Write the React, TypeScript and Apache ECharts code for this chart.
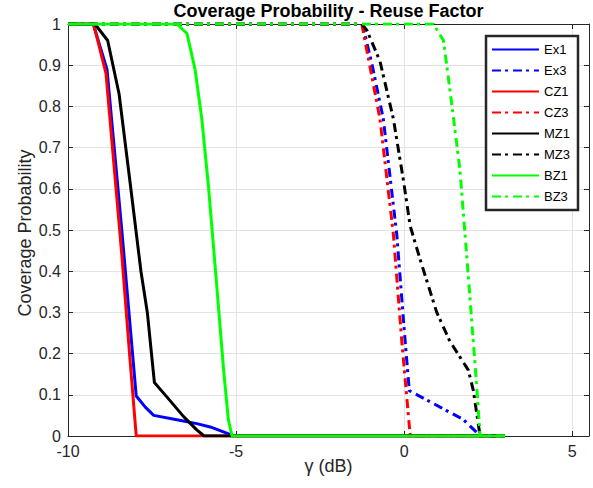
import React, { useEffect, useRef } from "react";
import * as echarts from "echarts";

// gamma (dB) / coverage probability pairs
const EX1: [number, number][] = [
  [-10, 1], [-9.25, 1], [-8.84, 0.89], [-8.4, 0.5], [-7.97, 0.097], [-7.7, 0.07],
  [-7.45, 0.05], [-6.8, 0.04], [-6.17, 0.03], [-5.77, 0.022], [-5.18, 0.004], [-5.1, 0], [3, 0],
];
const EX3: [number, number][] = [
  [-10, 1], [-1.24, 1], [-0.95, 0.9], [-0.62, 0.77], [-0.22, 0.49], [0.03, 0.23],
  [0.155, 0.11], [1.07, 0.07], [1.76, 0.04], [2.27, 0], [3, 0],
];
const CZ1: [number, number][] = [
  [-10, 1], [-9.24, 1], [-8.87, 0.88], [-8.4, 0.44], [-8.15, 0.18], [-7.97, 0], [3, 0],
];
const CZ3: [number, number][] = [
  [-10, 1], [-1.26, 1], [-0.72, 0.77], [-0.32, 0.49], [-0.07, 0.23], [0.17, 0.01], [0.19, 0], [3, 0],
];
const MZ1: [number, number][] = [
  [-10, 1], [-9.2, 1], [-8.82, 0.96], [-8.48, 0.83], [-8.13, 0.6], [-7.83, 0.4],
  [-7.64, 0.3], [-7.43, 0.13], [-7.06, 0.095], [-6.56, 0.047], [-6.17, 0.015], [-5.95, 0], [3, 0],
];
const MZ3: [number, number][] = [
  [-10, 1], [-1.26, 1], [-1.11, 0.985], [-0.72, 0.91], [-0.32, 0.77], [-0.02, 0.62],
  [0.18, 0.51], [0.47, 0.43], [0.97, 0.3], [1.36, 0.23], [1.91, 0.16], [2.06, 0.11], [2.26, 0], [3, 0],
];
const BZ1: [number, number][] = [
  [-10, 1], [-6.76, 1], [-6.46, 0.977], [-6.22, 0.89], [-6.02, 0.77], [-5.82, 0.605],
  [-5.57, 0.36], [-5.37, 0.16], [-5.23, 0.04], [-5.12, 0], [3, 0],
];
const BZ3: [number, number][] = [
  [-10, 1], [0.87, 1], [1.17, 0.96], [1.41, 0.81], [1.66, 0.646], [1.86, 0.44],
  [2.01, 0.28], [2.16, 0.12], [2.26, 0], [3, 0],
];

const SERIES_NAMES = ["Ex1", "Ex3", "CZ1", "CZ3", "MZ1", "MZ3", "BZ1", "BZ3"];
const SERIES_DATA = [EX1, EX3, CZ1, CZ3, MZ1, MZ3, BZ1, BZ3];
const SERIES_COLORS = ["#0000ff", "#0000ff", "#ff0000", "#ff0000", "#000000", "#000000", "#00ff00", "#00ff00"];
const SERIES_DASHED = [false, true, false, true, false, true, false, true];

const TITLE = "Coverage Probability - Reuse Factor";
const X_NAME = "\u03b3 (dB)";
const Y_NAME = "Coverage Probability";

const FONT = "'Liberation Sans', Arial, Helvetica, sans-serif";
const AXIS_COLOR = "#262626";

export default function App() {
  const ref = useRef<HTMLDivElement>(null);
  useEffect(() => {
    if (!ref.current) return;
    const chart = echarts.init(ref.current, null, { renderer: "svg" });
    const gridLeft = 68;
    const gridRight = 4;
    const gridTop = 24;
    const gridBottom = 52;
    const plotCx = (gridLeft + (593 - gridRight)) / 2;
    const axisCommon = {
      type: "value" as const,
      axisLine: { show: true, onZero: false, lineStyle: { color: AXIS_COLOR, width: 1 } },
      axisTick: { show: true, inside: true, length: 5, lineStyle: { color: AXIS_COLOR } },
    };
    chart.setOption({
      animation: false,
      backgroundColor: "#ffffff",
      textStyle: { fontFamily: FONT },
      grid: { left: gridLeft, right: gridRight, top: gridTop, bottom: gridBottom, show: false },
      xAxis: [
        {
          ...axisCommon,
          min: -10, max: 5.5, interval: 5, position: "bottom",
          axisLabel: { show: true, showMaxLabel: false, color: AXIS_COLOR, fontSize: 16, margin: 7, fontFamily: FONT },
          splitLine: { show: true, lineStyle: { color: "#e3e3e3", width: 1 } },
        },
        {
          ...axisCommon,
          min: -10, max: 5.5, interval: 5, position: "top",
          axisLabel: { show: false },
          splitLine: { show: false },
        },
      ],
      yAxis: [
        {
          ...axisCommon,
          min: 0, max: 1, interval: 0.1, position: "left",
          axisLabel: { show: true, color: AXIS_COLOR, fontSize: 16, margin: 7, fontFamily: FONT },
          splitLine: { show: true, lineStyle: { color: "#e3e3e3", width: 1 } },
        },
        {
          ...axisCommon,
          min: 0, max: 1, interval: 0.1, position: "right",
          axisLabel: { show: false },
          splitLine: { show: false },
        },
      ],
      legend: {
        orient: "vertical",
        left: 486,
        top: 36,
        padding: [7, 8, 7, 5],
        itemWidth: 47,
        itemHeight: 12,
        itemGap: 8,
        itemStyle: { opacity: 0 },
        backgroundColor: "#ffffff",
        borderColor: "#262626",
        borderWidth: 2.5,
        borderRadius: 0,
        textStyle: { fontSize: 13, color: "#000000", fontFamily: FONT },
        data: SERIES_NAMES,
      },
      series: SERIES_NAMES.map((name, i) => ({
        name,
        type: "line",
        data: SERIES_DATA[i],
        symbol: "none",
        showSymbol: false,
        color: SERIES_COLORS[i],
        lineStyle: {
          color: SERIES_COLORS[i],
          width: 3,
          type: SERIES_DASHED[i] ? [9, 4, 3, 5] : "solid",
          cap: "butt",
        },
        z: 2 + i,
      })),
      graphic: [
        {
          type: "text",
          x: plotCx,
          y: 11,
          style: {
            text: TITLE, fontSize: 18, fontWeight: "bold", fill: "#000000", fontFamily: FONT,
            textAlign: "center", textVerticalAlign: "middle",
          },
        },
        {
          type: "text",
          x: plotCx,
          y: 466,
          style: {
            text: X_NAME, fontSize: 18, fill: AXIS_COLOR, fontFamily: FONT,
            textAlign: "center", textVerticalAlign: "middle",
          },
        },
        {
          type: "text",
          x: 25,
          y: 233,
          rotation: Math.PI / 2,
          style: {
            text: Y_NAME, fontSize: 18, fill: AXIS_COLOR, fontFamily: FONT,
            textAlign: "center", textVerticalAlign: "middle",
          },
        },
      ],
    });
    return () => chart.dispose();
  }, []);
  return (
    <div
      ref={ref}
      style={{ position: "fixed", left: 0, top: 0, width: 593, height: 488, background: "#fff" }}
    />
  );
}
